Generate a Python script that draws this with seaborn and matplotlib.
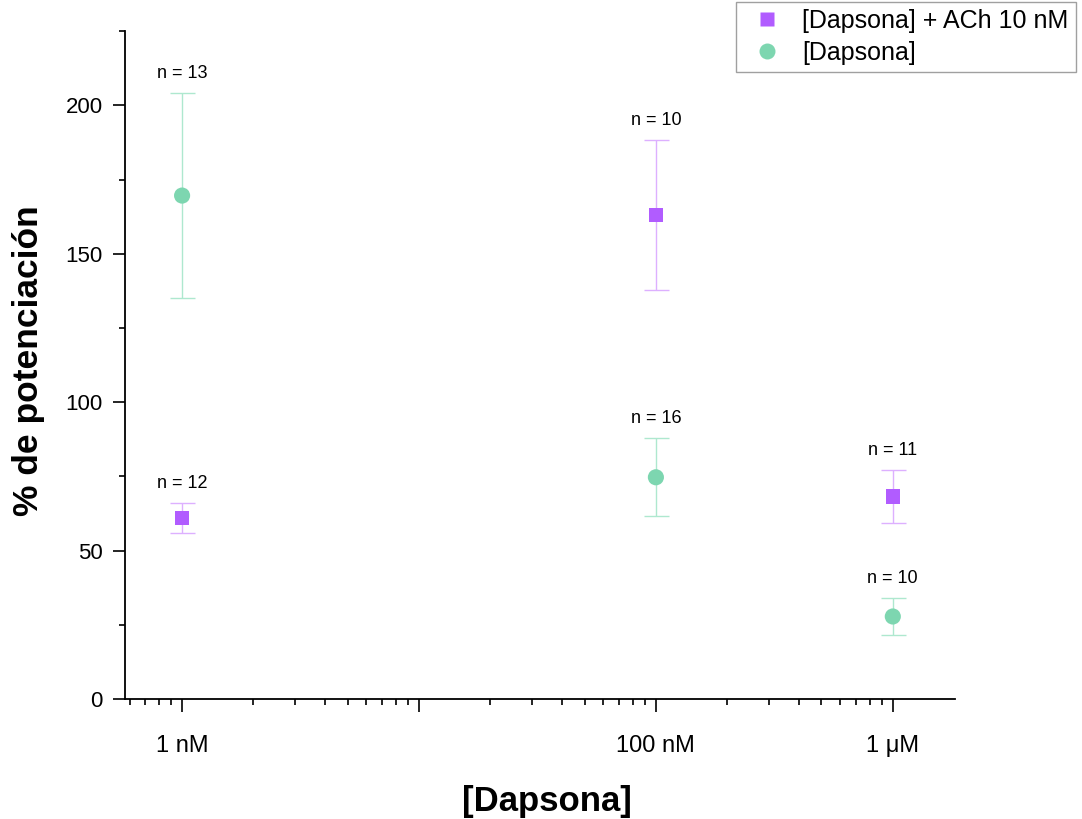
import numpy as np
import pandas as pd
import matplotlib
matplotlib.use("Agg")
import matplotlib.pyplot as plt
import matplotlib.ticker as mticker
from matplotlib.lines import Line2D
import seaborn as sns

# ---- data ----
conc_nM = [1, 100, 1000]
tick_labels = ["1 nM", "", "100 nM", "1 \u03bcM"]
tick_pos = [1, 10, 100, 1000]

ach_mean = [61.0, 163.0, 68.2]
ach_err = [5.0, 25.2, 8.9]
ach_n = [12, 10, 11]

dap_mean = [169.6, 74.7, 27.8]
dap_err = [34.6, 13.1, 6.3]
dap_n = [13, 16, 10]

series_names = ["[Dapsona] + ACh 10 nM", "[Dapsona]"]

purple = "#B15CFF"
purple_light = "#DDB0FF"
green = "#7DD6B0"
green_light = "#AEE8CF"

sns.set_style("ticks")
plt.rcParams['font.family'] = ['Liberation Sans', 'DejaVu Sans']
plt.rcParams['text.color'] = 'black'
plt.rcParams['axes.labelcolor'] = 'black'
plt.rcParams['xtick.color'] = 'black'
plt.rcParams['ytick.color'] = 'black'

df = pd.DataFrame({
    "conc": conc_nM + conc_nM,
    "val": ach_mean + dap_mean,
    "err": ach_err + dap_err,
    "n": ach_n + dap_n,
    "serie": [series_names[0]] * 3 + [series_names[1]] * 3,
})

fig = plt.figure(figsize=(10.82, 8.19), dpi=100)
ax = fig.add_axes([0.1155, 0.1465, 0.767, 0.8155])
ax.set_xscale("log")

# error bars
for name, ecol in zip(series_names, [purple_light, green_light]):
    sub = df[df.serie == name]
    ax.errorbar(sub.conc, sub.val, yerr=sub.err, fmt="none", ecolor=ecol,
                elinewidth=1.0, capsize=9, capthick=1.0, zorder=2)

sns.scatterplot(data=df, x="conc", y="val", hue="serie", style="serie",
                size="serie",
                palette={series_names[0]: purple, series_names[1]: green},
                markers={series_names[0]: "s", series_names[1]: "o"},
                sizes={series_names[0]: 105, series_names[1]: 135},
                edgecolor="none", ax=ax, legend=False, zorder=3)

# n labels
for _, r in df.iterrows():
    ax.annotate(f"n = {r.n}", (r.conc, r.val + r.err), xytext=(0, 11),
                textcoords="offset pixels", ha="center", va="bottom",
                fontsize=13, color="black")

ax.set_xlim(0.574, 1828)
ax.set_ylim(0, 225)

ax.xaxis.set_major_locator(mticker.FixedLocator(tick_pos))
ax.xaxis.set_major_formatter(mticker.FixedFormatter(tick_labels))
ax.xaxis.set_minor_locator(mticker.LogLocator(base=10, subs=np.arange(2, 10)))
ax.xaxis.set_minor_formatter(mticker.NullFormatter())
ax.yaxis.set_major_locator(mticker.MultipleLocator(50))
ax.yaxis.set_minor_locator(mticker.MultipleLocator(25))

ax.tick_params(axis="both", which="major", direction="out", length=9, width=1.2,
               color="black", labelcolor="black")
ax.tick_params(axis="both", which="minor", direction="out", length=4.5, width=1.2,
               color="black")
ax.tick_params(axis="x", which="major", pad=17, labelsize=17)
ax.tick_params(axis="y", which="major", pad=7, labelsize=16)

for s in ["left", "bottom"]:
    ax.spines[s].set_linewidth(1.3)
    ax.spines[s].set_color("black")
sns.despine(ax=ax)

ax.set_xlabel("[Dapsona]", fontsize=25, fontweight="bold", labelpad=20)
ax.set_ylabel("% de potenciación", fontsize=25.5, fontweight="bold", labelpad=15)
ax.xaxis.label.set_x(0.509)
ax.yaxis.label.set_y(0.507)

handles = [
    Line2D([], [], marker="s", linestyle="none", markersize=10,
           markerfacecolor=purple, markeredgecolor="none"),
    Line2D([], [], marker="o", linestyle="none", markersize=11.5,
           markerfacecolor=green, markeredgecolor="none"),
]
leg = fig.legend(handles, series_names, loc="upper right",
                 bbox_to_anchor=(0.994, 0.998), frameon=True, fancybox=False,
                 edgecolor="#888888", fontsize=18, borderaxespad=0,
                 handletextpad=0.45, borderpad=0.3, labelspacing=0.3,
                 handlelength=1.9)
leg.get_frame().set_linewidth(1.0)

fig.savefig("out.png", dpi=100)
